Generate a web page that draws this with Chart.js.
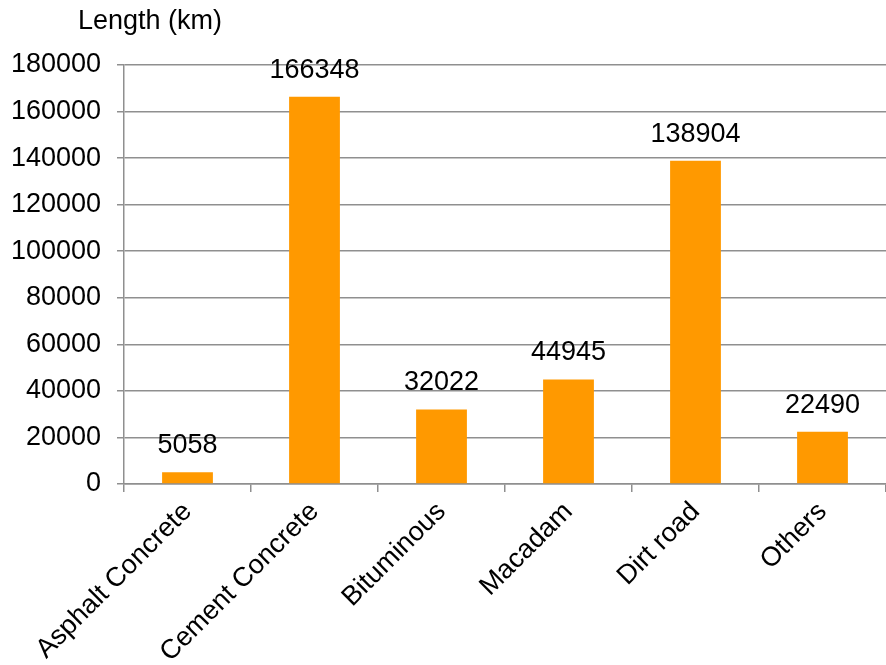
<!DOCTYPE html>
<html>
<head>
<meta charset="utf-8">
<title>Road length by surface type</title>
<script src="https://cdn.jsdelivr.net/npm/chart.js@4/dist/chart.umd.min.js"></script>
<style>
  html, body { margin: 0; padding: 0; background: #fff; }
  #wrap { width: 886px; height: 665px; }
</style>
</head>
<body>
<div id="wrap"><canvas id="bar-chart"></canvas></div>
<script>
const surfaceTypes = ['Asphalt Concrete', 'Cement Concrete', 'Bituminous', 'Macadam', 'Dirt road', 'Others'];
const roadLength = [5058, 166348, 32022, 44945, 138904, 22490];
const yTicks = [0, 20000, 40000, 60000, 80000, 100000, 120000, 140000, 160000, 180000];

const FONT = "'Liberation Sans', Arial, sans-serif";
const FONT_SIZE = 27;
const gridGray = '#8f8f8f';

// values printed above every bar
const barValues = {
  id: 'barValues',
  afterDatasetsDraw(chart) {
    const ctx = chart.ctx;
    const meta = chart.getDatasetMeta(0);
    ctx.save();
    ctx.font = FONT_SIZE + 'px ' + FONT;
    ctx.fillStyle = '#000';
    ctx.textAlign = 'center';
    ctx.textBaseline = 'alphabetic';
    meta.data.forEach((bar, i) => {
      ctx.fillText(String(roadLength[i]), bar.x, bar.y - 19);
    });
    ctx.restore();
  }
};

// unit caption above the value axis
const unitCaption = {
  id: 'unitCaption',
  afterDraw(chart) {
    const ctx = chart.ctx;
    ctx.save();
    ctx.font = FONT_SIZE + 'px ' + FONT;
    ctx.fillStyle = '#000';
    ctx.textAlign = 'center';
    ctx.textBaseline = 'alphabetic';
    ctx.fillText('Length (km)', chart.chartArea.left + 26, 29);
    ctx.restore();
  }
};

function createBarChart() {
  const ctx = document.getElementById('bar-chart').getContext('2d');
  new Chart(ctx, {
    type: 'bar',
    data: {
      labels: surfaceTypes,
      datasets: [{
        data: roadLength,
        backgroundColor: '#ff9900',
        borderWidth: 0,
        barPercentage: 0.4,
        categoryPercentage: 1
      }]
    },
    options: {
      responsive: true,
      maintainAspectRatio: false,
      animation: false,
      layout: { padding: { top: 65, left: 10, right: 0, bottom: 0 } },
      plugins: {
        legend: { display: false },
        tooltip: { enabled: false }
      },
      scales: {
        x: {
          afterFit(scale) {
            scale.height = 181;
          },
          grid: {
            drawOnChartArea: false,
            drawTicks: true,
            tickLength: 8,
            color: gridGray,
            lineWidth: 1.5
          },
          border: { color: gridGray, width: 1.5 },
          ticks: {
            color: '#000',
            font: { family: FONT, size: FONT_SIZE },
            minRotation: 45,
            maxRotation: 45,
            padding: 4
          }
        },
        y: {
          min: 0,
          max: 180000,
          afterBuildTicks(axis) {
            axis.ticks = yTicks.map(v => ({ value: v }));
          },
          afterFit(scale) {
            scale.width = 114;
          },
          grid: {
            color: gridGray,
            lineWidth: 1.5,
            tickLength: 7
          },
          border: { color: gridGray, width: 1.5 },
          ticks: {
            color: '#000',
            font: { family: FONT, size: FONT_SIZE },
            padding: 16,
            callback: v => String(v)
          }
        }
      }
    },
    plugins: [barValues, unitCaption]
  });
}

document.addEventListener('DOMContentLoaded', () => {
  createBarChart();
});
</script>
</body>
</html>
